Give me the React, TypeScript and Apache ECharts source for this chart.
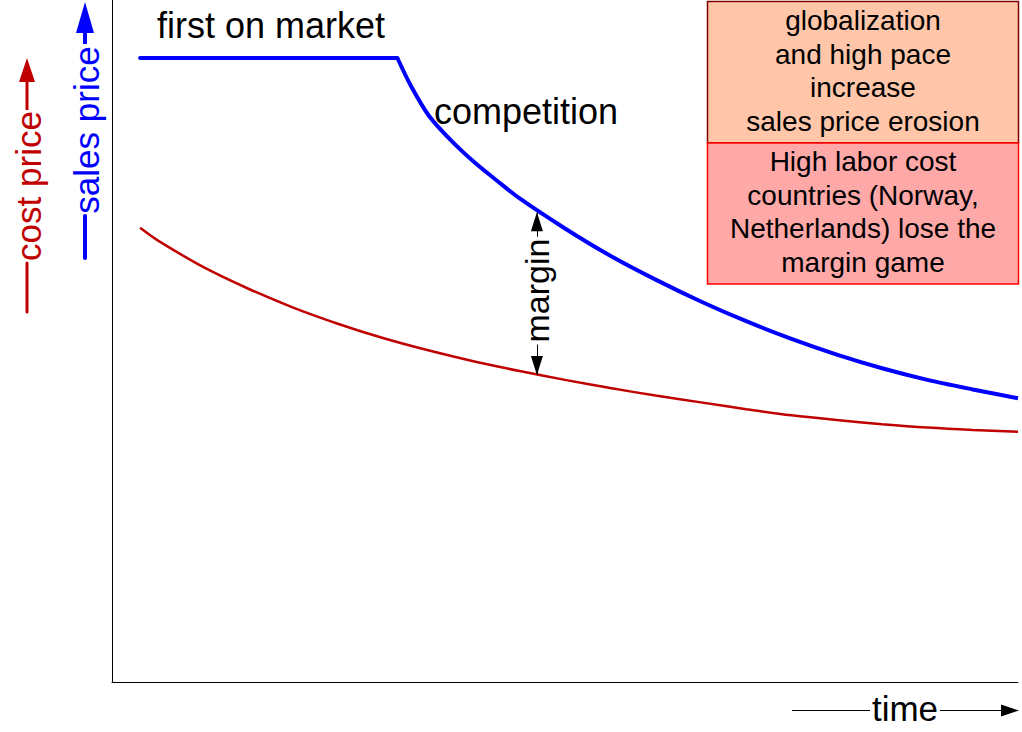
import React, { useEffect, useRef } from 'react';
import * as echarts from 'echarts';

// time runs 0..100 along the x axis, price 0..100 up the y axis
const salesTime = [3.1, 31.5, 33, 35, 37.5, 40, 42.5, 45, 50, 55, 60, 65, 70, 75, 80, 85, 90, 95, 100];
const salesPrice = [91.5, 91.5, 87.4, 83.0, 79.3, 76.2, 73.5, 70.9, 66.5, 62.5, 59.0, 55.8, 52.9, 50.3, 48.0, 46.0, 44.3, 42.9, 41.6];
const knee = 1; // index where the flat "first on market" part ends

const costTime = [3.1, 5, 10, 15, 20, 25, 30, 35, 40, 45, 50, 55, 60, 65, 70, 75, 80, 85, 90, 95, 100];
const costPrice = [66.6, 64.8, 60.9, 57.7, 54.9, 52.5, 50.4, 48.6, 47.0, 45.6, 44.3, 43.1, 42.0, 41.0, 40.0, 39.1, 38.4, 37.8, 37.3, 36.95, 36.7];

// margin arrow: [time, sales price, cost price]
const marginSpan = [46.9, 68.8, 45.1];

const globalizationLines = ['globalization', 'and high pace', 'increase', 'sales price erosion'];
const laborLines = ['High labor cost', 'countries (Norway,', 'Netherlands) lose the', 'margin game'];

const FONT = '"Liberation Sans", Arial, sans-serif';
const BLUE = '#0000FF';
const RED = '#C00000';

function pairs(xs: number[], ys: number[]) {
  return xs.map((x, i) => [x, ys[i]]);
}

export default function App() {
  const chartRef = useRef<HTMLDivElement>(null);

  useEffect(() => {
    if (!chartRef.current) return;
    document.body.style.margin = '0';
    const chart = echarts.init(chartRef.current, undefined, { renderer: 'svg' });

    const [mt, mTop, mBottom] = marginSpan;
    const sales = pairs(salesTime, salesPrice);

    const option: echarts.EChartsOption = {
      animation: false,
      backgroundColor: '#fff',
      grid: { left: 112, right: 4, top: 0, bottom: 50 },
      xAxis: {
        type: 'value',
        min: 0,
        max: 100,
        axisLine: { show: true, onZero: false, lineStyle: { color: '#000', width: 1 } },
        axisTick: { show: false },
        axisLabel: { show: false },
        splitLine: { show: false }
      },
      yAxis: {
        type: 'value',
        min: 0,
        max: 100,
        axisLine: { show: true, onZero: false, lineStyle: { color: '#000', width: 1 } },
        axisTick: { show: false },
        axisLabel: { show: false },
        splitLine: { show: false }
      },
      series: [
        {
          name: 'cost price',
          type: 'line',
          data: pairs(costTime, costPrice),
          smooth: 0.3,
          showSymbol: false,
          symbol: 'none',
          lineStyle: { color: RED, width: 2.5 },
          markLine: {
            silent: true,
            symbol: ['triangle', 'triangle'],
            symbolSize: [12, 19],
            symbolOffset: [[0, 9], [0, 9]] as any,
            label: { show: false },
            lineStyle: { color: '#000', width: 1, type: 'solid' },
            itemStyle: { color: '#000' },
            data: [[{ coord: [mt, mBottom] }, { coord: [mt, mTop] }]] as any
          },
          markPoint: {
            silent: true,
            symbol: 'rect',
            symbolSize: 0,
            label: {
              show: true,
              formatter: 'margin',
              rotate: 90,
              color: '#000',
              fontFamily: FONT,
              fontSize: 34,
              backgroundColor: '#fff',
              padding: [0, 2],
              offset: [3, 0]
            },
            data: [{ coord: [mt, (mTop + mBottom) / 2] }]
          }
        },
        {
          name: 'sales price',
          type: 'line',
          data: sales.slice(0, knee + 1),
          showSymbol: false,
          symbol: 'none',
          lineStyle: { color: BLUE, width: 4, cap: 'round' },
          z: 3
        },
        {
          name: 'sales price',
          type: 'line',
          data: sales.slice(knee),
          smooth: 0.3,
          showSymbol: false,
          symbol: 'none',
          lineStyle: { color: BLUE, width: 4 },
          z: 3
        }
      ],
      graphic: [
        // annotations
        {
          type: 'text',
          left: 157,
          top: 7,
          style: { text: 'first on market', font: `36px ${FONT}`, fill: '#000' }
        },
        {
          type: 'text',
          left: 434,
          top: 93,
          style: { text: 'competition', font: `36px ${FONT}`, fill: '#000' }
        },
        // boxes
        {
          type: 'rect',
          shape: { x: 707.5, y: 1.5, width: 311, height: 141.5 },
          style: { fill: '#FFC6A9', stroke: '#800000', lineWidth: 1.5 }
        },
        {
          type: 'rect',
          shape: { x: 707.5, y: 143, width: 311, height: 141 },
          style: { fill: '#FFA8A8', stroke: '#FF0000', lineWidth: 1.5 }
        },
        {
          type: 'text',
          x: 863,
          y: 71,
          style: {
            text: globalizationLines.join('\n'),
            font: `28px ${FONT}`,
            lineHeight: 33.6,
            fill: '#000',
            align: 'center',
            verticalAlign: 'middle'
          }
        },
        {
          type: 'text',
          x: 863,
          y: 212,
          style: {
            text: laborLines.join('\n'),
            font: `28px ${FONT}`,
            lineHeight: 33.6,
            fill: '#000',
            align: 'center',
            verticalAlign: 'middle'
          }
        },
        // sales price axis label
        { type: 'line', shape: { x1: 85, y1: 258, x2: 85, y2: 216 }, style: { stroke: BLUE, lineWidth: 4, lineCap: 'round' } },
        { type: 'line', shape: { x1: 85, y1: 44, x2: 85, y2: 30 }, style: { stroke: BLUE, lineWidth: 4 } },
        { type: 'polygon', shape: { points: [[85, 2], [76, 33], [94, 33]] }, style: { fill: BLUE } },
        {
          type: 'text',
          x: 86,
          y: 130,
          rotation: Math.PI / 2,
          style: { text: 'sales price', font: `35px ${FONT}`, fill: BLUE, align: 'center', verticalAlign: 'middle' }
        },
        // cost price axis label
        { type: 'line', shape: { x1: 27, y1: 312, x2: 27, y2: 263 }, style: { stroke: RED, lineWidth: 3, lineCap: 'round' } },
        { type: 'line', shape: { x1: 27, y1: 110, x2: 27, y2: 80 }, style: { stroke: RED, lineWidth: 3 } },
        { type: 'polygon', shape: { points: [[27, 58], [19, 82], [35, 82]] }, style: { fill: RED } },
        {
          type: 'text',
          x: 28,
          y: 186,
          rotation: Math.PI / 2,
          style: { text: 'cost price', font: `35px ${FONT}`, fill: RED, align: 'center', verticalAlign: 'middle' }
        },
        // time axis label
        { type: 'line', shape: { x1: 792, y1: 710.5, x2: 870, y2: 710.5 }, style: { stroke: '#000', lineWidth: 1 } },
        { type: 'line', shape: { x1: 940, y1: 710.5, x2: 1002, y2: 710.5 }, style: { stroke: '#000', lineWidth: 1 } },
        { type: 'polygon', shape: { points: [[1019, 710.5], [1001, 704.5], [1001, 716.5]] }, style: { fill: '#000' } },
        {
          type: 'text',
          x: 905,
          y: 708,
          style: { text: 'time', font: `35px ${FONT}`, fill: '#000', align: 'center', verticalAlign: 'middle' }
        }
      ]
    };

    chart.setOption(option);

    return () => {
      chart.dispose();
    };
  }, []);

  return <div ref={chartRef} style={{ width: 1022, height: 732 }} />;
}
